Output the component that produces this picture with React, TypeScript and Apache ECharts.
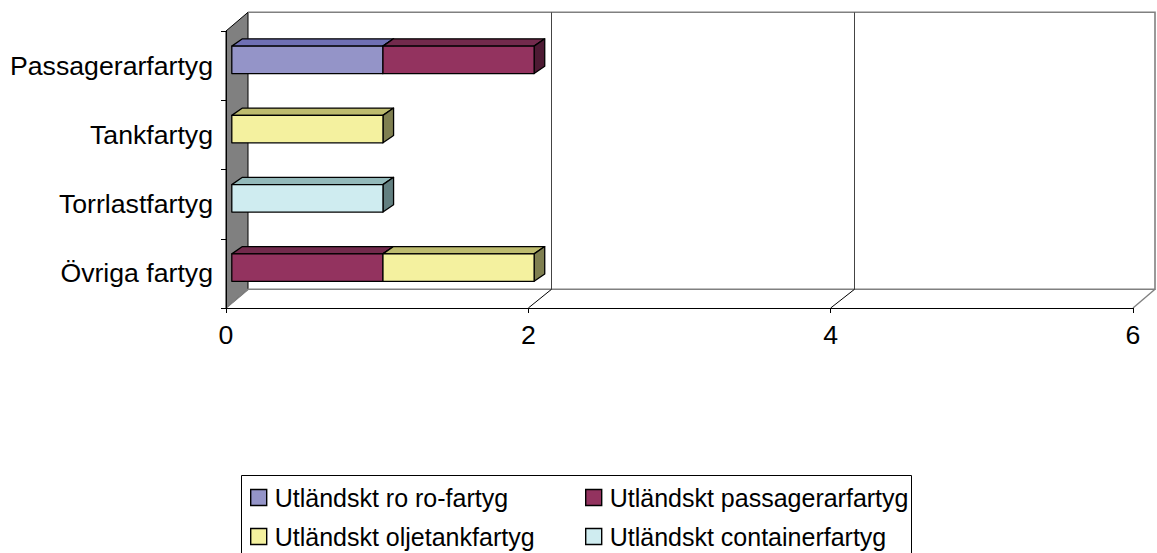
import React, { useEffect, useRef } from "react";
import * as echarts from "echarts";

const categories = ["Passagerarfartyg", "Tankfartyg", "Torrlastfartyg", "Övriga fartyg"];
const xTicks = [0, 2, 4, 6];
const roRo = [1, 0, 0, 0];
const passagerar = [1, 0, 0, 1];
const oljetank = [0, 1, 0, 1];
const container = [0, 0, 1, 0];

const seriesDefs = [
  { name: "Utländskt ro ro-fartyg", values: roRo, front: "#9494C8", top: "#6F70B4", side: "#4B4B80" },
  { name: "Utländskt passagerarfartyg", values: passagerar, front: "#93335F", top: "#722A4C", side: "#4D1A33" },
  { name: "Utländskt oljetankfartyg", values: oljetank, front: "#F4F19F", top: "#BDBB6E", side: "#7F7F50" },
  { name: "Utländskt containerfartyg", values: container, front: "#CFECF0", top: "#93B9BA", side: "#627F80" },
];

const FONT = "Liberation Sans";
const DX = 22;
const DY = -18.7;
const BAR_DX = 5.8;
const BAR_DY = -5.8;
const BAR_DEPTH_X = 10.6;
const BAR_DEPTH_Y = -7.3;
const BAR_H = 27.4;

function renderWalls(params: any, api: any) {
  const cs = params.coordSys;
  const x0 = cs.x;
  const y0 = cs.y;
  const w = cs.width;
  const h = cs.height;
  const bottom = y0 + h;
  const tick = api.value(0);
  const px = api.coord([tick, 0])[0];
  const children: any[] = [];
  const grey = "#808080";
  if (params.dataIndex === 0) {
    children.push({
      type: "polygon",
      shape: { points: [[x0, bottom], [x0, y0], [x0 + DX, y0 + DY], [x0 + DX, bottom + DY]] },
      style: { fill: grey, stroke: "#000", lineWidth: 1 },
    });
    children.push({
      type: "polyline",
      shape: {
        points: [
          [x0 + DX, y0 + DY],
          [x0 + w + DX, y0 + DY],
          [x0 + w + DX, bottom + DY],
          [x0 + DX, bottom + DY],
          [x0, bottom],
        ],
      },
      style: { fill: "none", stroke: grey, lineWidth: 1.6 },
    });
    children.push({
      type: "line",
      shape: { x1: x0 + w, y1: bottom, x2: x0 + w + DX, y2: bottom + DY },
      style: { stroke: grey, lineWidth: 1.4 },
    });
  } else if (tick < xTicks[xTicks.length - 1]) {
    const bx = Math.round(px + DX) + 1.5;
    children.push({
      type: "line",
      shape: { x1: bx, y1: y0 + DY, x2: bx, y2: bottom + DY },
      style: { stroke: "#444", lineWidth: 1 },
    });
    children.push({
      type: "line",
      shape: { x1: px, y1: bottom, x2: bx, y2: bottom + DY },
      style: { stroke: "#000", lineWidth: 1 },
    });
  }
  return { type: "group", children };
}

function makeBarRenderer(def: any) {
  return (_params: any, api: any) => {
    const cat = api.value(0);
    const a = api.coord([api.value(1), cat]);
    const b = api.coord([api.value(2), cat]);
    const xa = a[0] + BAR_DX;
    const xb = b[0] + BAR_DX;
    const top = a[1] + BAR_DY - BAR_H / 2;
    const bot = top + BAR_H;
    const style = { stroke: "#000", lineWidth: 1.3, lineJoin: "round" };
    return {
      type: "group",
      children: [
        {
          type: "polygon",
          shape: { points: [[xa, top], [xa + BAR_DEPTH_X, top + BAR_DEPTH_Y], [xb + BAR_DEPTH_X, top + BAR_DEPTH_Y], [xb, top]] },
          style: { ...style, fill: def.top },
        },
        {
          type: "polygon",
          shape: { points: [[xb, top], [xb + BAR_DEPTH_X, top + BAR_DEPTH_Y], [xb + BAR_DEPTH_X, bot + BAR_DEPTH_Y], [xb, bot]] },
          style: { ...style, fill: def.side },
        },
        {
          type: "rect",
          shape: { x: xa, y: top, width: xb - xa, height: BAR_H },
          style: { ...style, fill: def.front },
        },
      ],
    };
  };
}

function buildBars() {
  const totals = categories.map(() => 0);
  return seriesDefs.map((def) => {
    const data: number[][] = [];
    def.values.forEach((v, i) => {
      if (v > 0) {
        data.push([i, totals[i], totals[i] + v]);
        totals[i] += v;
      }
    });
    return {
      type: "custom",
      name: def.name,
      z: 2,
      itemStyle: { color: def.front },
      encode: { x: [1, 2], y: 0 },
      data,
      renderItem: makeBarRenderer(def),
    };
  });
}

function legendAt(left: number, top: number, name: string) {
  return {
    left,
    top,
    padding: 0,
    orient: "horizontal",
    data: [name],
    icon: "rect",
    itemWidth: 16,
    itemHeight: 16,
    selectedMode: false,
    itemStyle: { borderColor: "#000", borderWidth: 1.4 },
    textStyle: { fontFamily: FONT, fontSize: 25, color: "#000", lineHeight: 25, padding: [0, 0, 0, 3] },
  };
}

export default function App() {
  const ref = useRef<HTMLDivElement>(null);
  useEffect(() => {
    const chart = echarts.init(ref.current!, undefined, { renderer: "svg" });
    chart.setOption({
      animation: false,
      backgroundColor: "#fff",
      grid: { left: 226, right: 24, top: 31, bottom: 245 },
      xAxis: {
        type: "value",
        min: 0,
        max: 6,
        interval: 2,
        z: 3,
        splitLine: { show: false },
        axisLine: { show: true, lineStyle: { color: "#000", width: 1 } },
        axisTick: { show: true, length: 5, lineStyle: { color: "#000" } },
        axisLabel: { fontFamily: FONT, fontSize: 26.67, color: "#000", margin: 13 },
      },
      yAxis: {
        type: "category",
        inverse: true,
        data: categories,
        z: 3,
        axisLine: { show: true, lineStyle: { color: "#000", width: 1 } },
        axisTick: { show: true, length: 5, lineStyle: { color: "#000" } },
        axisLabel: { fontFamily: FONT, fontSize: 26.67, color: "#000", margin: 13 },
      },
      legend: [
        legendAt(250, 485, seriesDefs[0].name),
        legendAt(250, 524, seriesDefs[2].name),
        legendAt(585, 485, seriesDefs[1].name),
        legendAt(585, 524, seriesDefs[3].name),
      ],
      graphic: [
        {
          type: "rect",
          silent: true,
          z: -1,
          shape: { x: 241.5, y: 475.5, width: 670, height: 90 },
          style: { fill: "#fff", stroke: "#000", lineWidth: 1 },
        },
      ],
      series: [
        {
          type: "custom",
          name: "Väggar",
          z: 1,
          silent: true,
          encode: { x: 0 },
          data: xTicks.map((t) => [t]),
          renderItem: renderWalls,
        },
        ...buildBars(),
      ],
    });
    return () => chart.dispose();
  }, []);
  return <div ref={ref} style={{ position: "fixed", left: 0, top: 0, width: 1157, height: 553 }} />;
}
